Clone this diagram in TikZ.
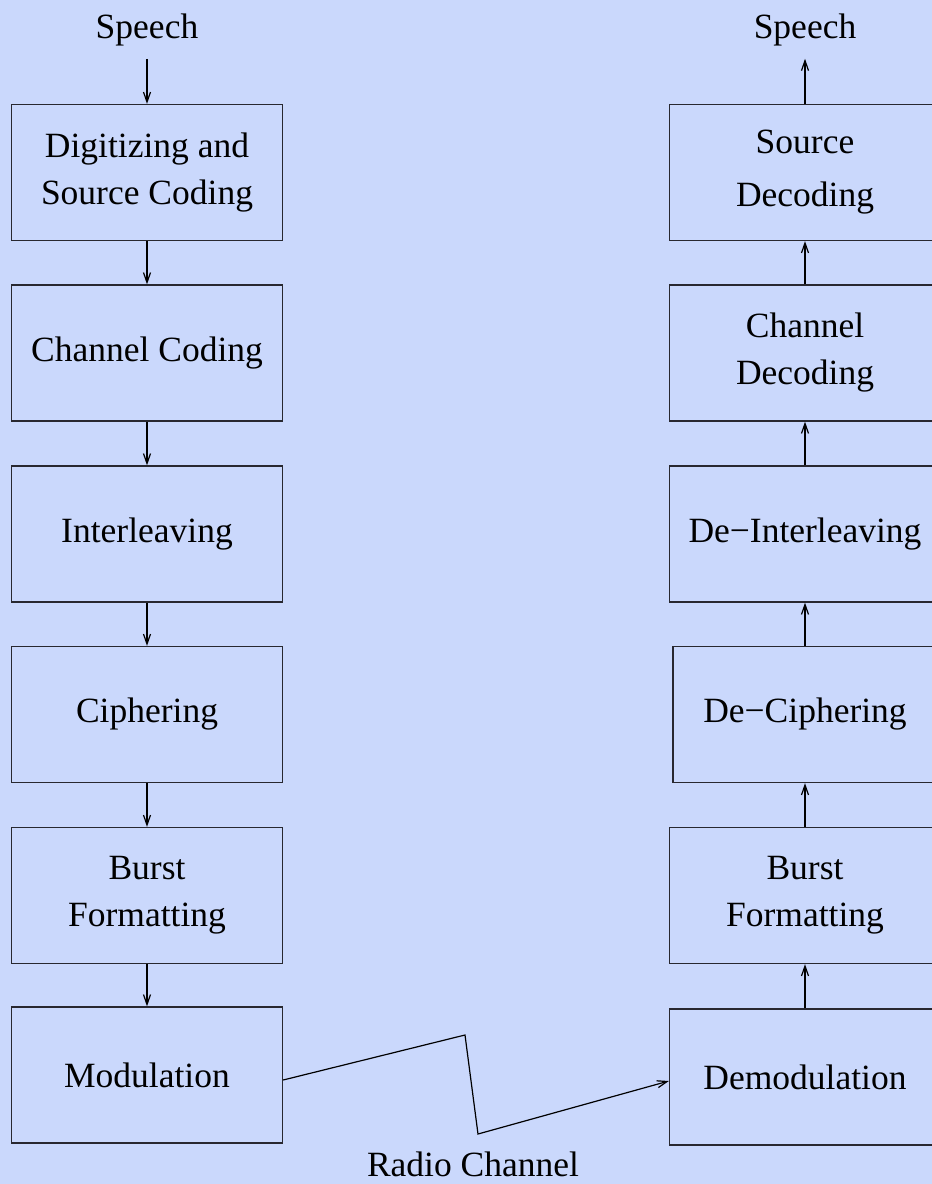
\documentclass[tikz,border=0pt]{standalone}
\usepackage{fontspec}
\setmainfont{Liberation Serif}
\usepackage{tikz}
\usetikzlibrary{arrows.meta,positioning,calc}
\definecolor{bgblue}{RGB}{202,216,252}
\definecolor{edge}{RGB}{40,40,48}
\tikzset{
  blk/.style   ={rectangle,draw=edge,line width=1.3pt,fill=bgblue,minimum width=271pt,minimum height=136pt,
                 inner sep=0pt,align=center,font=\fontsize{35.5}{47}\selectfont},
  lbl/.style   ={inner sep=12.5pt,font=\fontsize{35.5}{42}\selectfont},
  flow/.style  ={line width=1.2pt,-{Straight Barb[length=10pt,width=7pt]}},
  chan/.style  ={line width=1.2pt},
}
\begin{document}
\begin{tikzpicture}[x=1pt,y=-1pt]
  \fill[bgblue](0,0) rectangle (932,1184);
  \useasboundingbox (0,0) rectangle (932,1184);
  % sender side
  \node[lbl](spL) at (147,30){Speech};
  \node[blk](dig)  at (147,172.5){Digitizing and\\Source Coding};
  \node[blk](chc)  at (147,353){Channel Coding};
  \node[blk](intl) at (147,534){Interleaving};
  \node[blk](ciph) at (147,714.5){Ciphering};
  \node[blk](bfl)  at (147,895.5){Burst\\Formatting};
  \node[blk](mod)  at (147,1075){Modulation};
  % receiver side
  \node[lbl](spR) at (805,30){Speech};
  \node[blk,font=\fontsize{35.5}{53}\selectfont](srcdec) at (805,172.5){Source\\Decoding};
  \node[blk](chdec)  at (805,353){Channel\\Decoding};
  \node[blk](deint)  at (805,534){De−Interleaving};
  \node[blk,minimum width=264pt](deciph) at (805,714.5){De−Ciphering};
  \node[blk](bfr)    at (805,895.5){Burst\\Formatting};
  \node[blk](demod)  at (805,1077){Demodulation};
  \node[lbl,inner sep=0pt](radio) at (473,1164){Radio Channel};
  \coordinate (z1) at (465,1035);
  \coordinate (z2) at (478,1134);
  \foreach \a/\b in {spL/dig,dig/chc,chc/intl,intl/ciph,ciph/bfl,bfl/mod,
                     demod/bfr,bfr/deciph,deciph/deint,deint/chdec,chdec/srcdec,srcdec/spR}
    \draw[flow](\a)--(\b);
  \draw[flow,chan]([yshift=-5pt]mod.east)--(z1)--(z2)--([yshift=-4pt]demod.west);
\end{tikzpicture}
\end{document}
